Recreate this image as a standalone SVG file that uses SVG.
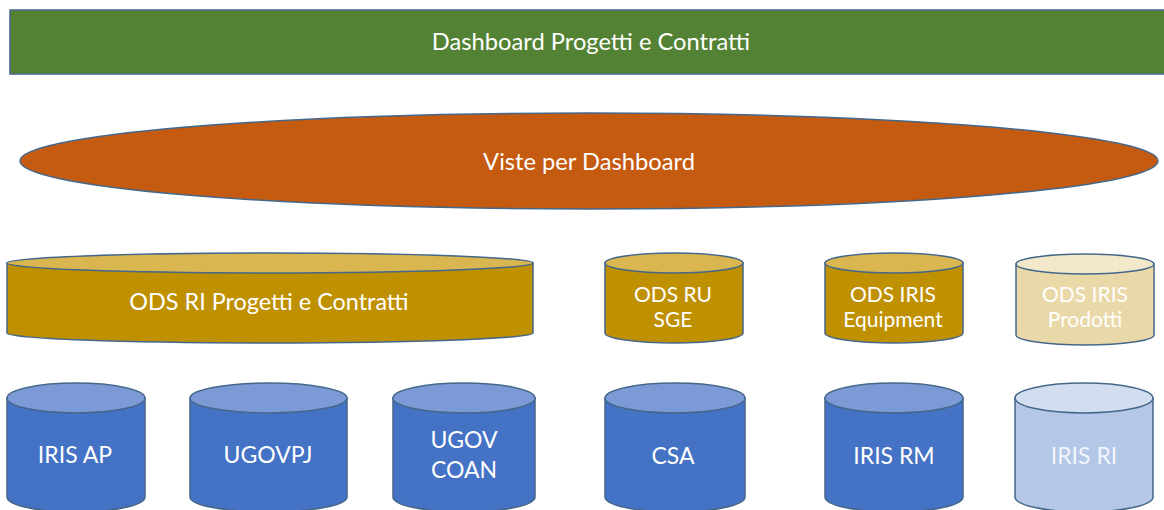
<svg xmlns="http://www.w3.org/2000/svg" width="1164" height="510" viewBox="0 0 1164 510">
<style>
  .t{font-family:Lato,"Open Sans","Liberation Sans",sans-serif;text-anchor:middle;fill:#ffffff}
  .big{font-size:23.7px}
  .odsri{font-size:23.4px}
  .ods{font-size:21px}
  .src{font-size:23px}
  .ol{stroke:#44678a;stroke-width:1.5}
  .gold{fill:#bf9000}
  .goldcap{fill:#d9b650}
  .fgold{fill:#ead9a8}
  .fgoldcap{fill:#f3e8c9}
  .blue{fill:#4472c4}
  .bluecap{fill:#7c9ad6}
  .fblue{fill:#b4c7e7}
  .fbluecap{fill:#d2ddf0}
</style>
<g id="dashboard">
  <rect x="10" y="10" width="1160" height="64" fill="#548235" class="ol"/>
  <text class="t big" x="591" y="50">Dashboard Progetti e Contratti</text>
</g>
<g id="viste">
  <ellipse cx="589" cy="161" rx="569" ry="48" fill="#c55a11" class="ol"/>
  <text class="t big" x="589" y="170">Viste per Dashboard</text>
</g>
<g id="ods-ri">
  <path class="gold ol" d="M7,263 L7,333 A263,10 0 0 0 533,333 L533,263 Z"/>
  <ellipse class="goldcap ol" cx="270" cy="263" rx="263" ry="10"/>
  <text class="t odsri" x="269" y="310">ODS RI Progetti e Contratti</text>
</g>
<g id="ods-ru">
  <path class="gold ol" d="M605,263 L605,333 A69,10 0 0 0 743,333 L743,263 Z"/>
  <ellipse class="goldcap ol" cx="674" cy="263" rx="69" ry="10"/>
  <text class="t ods" x="673" y="302">ODS RU</text>
  <text class="t ods" x="673" y="327">SGE</text>
</g>
<g id="ods-equipment">
  <path class="gold ol" d="M825,263 L825,333 A69,10 0 0 0 963,333 L963,263 Z"/>
  <ellipse class="goldcap ol" cx="894" cy="263" rx="69" ry="10"/>
  <text class="t ods" x="893" y="302">ODS IRIS</text>
  <text class="t ods" x="893" y="327">Equipment</text>
</g>
<g id="ods-prodotti">
  <path class="fgold ol" d="M1016,264 L1016,335 A69,10 0 0 0 1154,335 L1154,264 Z"/>
  <ellipse class="fgoldcap ol" cx="1085" cy="264" rx="69" ry="10"/>
  <text class="t ods" x="1085" y="302">ODS IRIS</text>
  <text class="t ods" x="1085" y="327">Prodotti</text>
</g>
<g id="iris-ap">
  <path class="blue ol" d="M7,398 L7,497 A69,15 0 0 0 145,497 L145,398 Z"/>
  <ellipse class="bluecap ol" cx="76" cy="398" rx="69" ry="15"/>
  <text class="t src" x="75" y="463">IRIS AP</text>
</g>
<g id="ugovpj">
  <path class="blue ol" d="M190,398 L190,497 A78.5,15 0 0 0 347,497 L347,398 Z"/>
  <ellipse class="bluecap ol" cx="268.5" cy="398" rx="78.5" ry="15"/>
  <text class="t src" x="268" y="463">UGOVPJ</text>
</g>
<g id="ugov-coan">
  <path class="blue ol" d="M393,398 L393,497 A71,15 0 0 0 535,497 L535,398 Z"/>
  <ellipse class="bluecap ol" cx="464" cy="398" rx="71" ry="15"/>
  <text class="t src" x="464" y="448">UGOV</text>
  <text class="t src" x="464" y="478">COAN</text>
</g>
<g id="csa">
  <path class="blue ol" d="M605,398 L605,497 A70,15 0 0 0 745,497 L745,398 Z"/>
  <ellipse class="bluecap ol" cx="675" cy="398" rx="70" ry="15"/>
  <text class="t src" x="673" y="464">CSA</text>
</g>
<g id="iris-rm">
  <path class="blue ol" d="M825,398 L825,497 A69,15 0 0 0 963,497 L963,398 Z"/>
  <ellipse class="bluecap ol" cx="894" cy="398" rx="69" ry="15"/>
  <text class="t src" x="894" y="464">IRIS RM</text>
</g>
<g id="iris-ri">
  <path class="fblue ol" d="M1015,398 L1015,497 A69,15 0 0 0 1153,497 L1153,398 Z"/>
  <ellipse class="fbluecap ol" cx="1084" cy="398" rx="69" ry="15"/>
  <text class="t src" x="1084" y="464" fill-opacity="0.85">IRIS RI</text>
</g>
<g id="connectors"></g>
</svg>
